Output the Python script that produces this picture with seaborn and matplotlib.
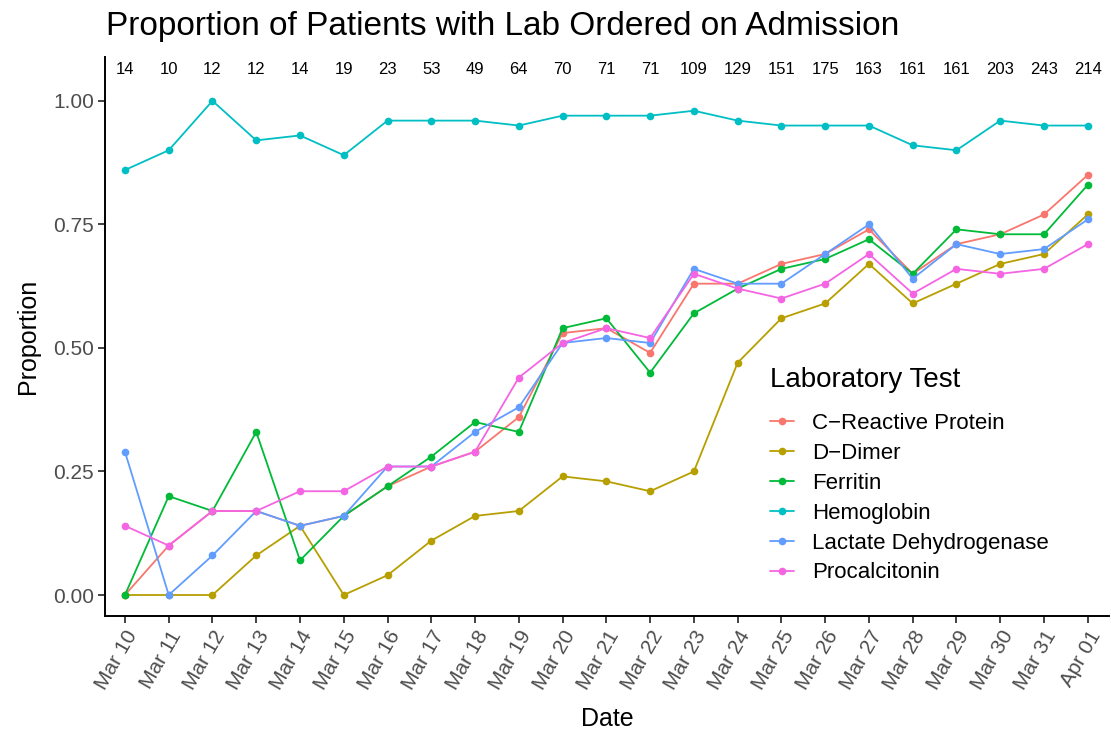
import pandas as pd
import seaborn as sns
import matplotlib.pyplot as plt
import matplotlib.dates as mdates

dates = pd.date_range("2020-03-10", "2020-04-01", freq="D")

counts = [14, 10, 12, 12, 14, 19, 23, 53, 49, 64, 70, 71, 71, 109,
          129, 151, 175, 163, 161, 161, 203, 243, 214]

crp = [0.00, 0.10, 0.17, 0.17, 0.14, 0.16, 0.22, 0.26, 0.29, 0.36, 0.53, 0.54,
       0.49, 0.63, 0.63, 0.67, 0.69, 0.74, 0.65, 0.71, 0.73, 0.77, 0.85]
ddimer = [0.00, 0.00, 0.00, 0.08, 0.14, 0.00, 0.04, 0.11, 0.16, 0.17, 0.24, 0.23,
          0.21, 0.25, 0.47, 0.56, 0.59, 0.67, 0.59, 0.63, 0.67, 0.69, 0.77]
ferritin = [0.00, 0.20, 0.17, 0.33, 0.07, 0.16, 0.22, 0.28, 0.35, 0.33, 0.54, 0.56,
            0.45, 0.57, 0.62, 0.66, 0.68, 0.72, 0.65, 0.74, 0.73, 0.73, 0.83]
hemoglobin = [0.86, 0.90, 1.00, 0.92, 0.93, 0.89, 0.96, 0.96, 0.96, 0.95, 0.97, 0.97,
              0.97, 0.98, 0.96, 0.95, 0.95, 0.95, 0.91, 0.90, 0.96, 0.95, 0.95]
ldh = [0.29, 0.00, 0.08, 0.17, 0.14, 0.16, 0.26, 0.26, 0.33, 0.38, 0.51, 0.52,
       0.51, 0.66, 0.63, 0.63, 0.69, 0.75, 0.64, 0.71, 0.69, 0.70, 0.76]
procalcitonin = [0.14, 0.10, 0.17, 0.17, 0.21, 0.21, 0.26, 0.26, 0.29, 0.44, 0.51, 0.54,
                 0.52, 0.65, 0.62, 0.60, 0.63, 0.69, 0.61, 0.66, 0.65, 0.66, 0.71]

tests = ["C\u2212Reactive Protein", "D\u2212Dimer", "Ferritin", "Hemoglobin",
         "Lactate Dehydrogenase", "Procalcitonin"]
colors = ["#F8766D", "#B79F00", "#00BA38", "#00BFC4", "#619CFF", "#F564E3"]

series = [crp, ddimer, ferritin, hemoglobin, ldh, procalcitonin]
df = pd.concat([pd.DataFrame({"Date": dates, "Proportion": s, "Test": t})
                for s, t in zip(series, tests)])

sns.set_style("ticks")
plt.rcParams["font.family"] = ["Liberation Sans", "DejaVu Sans"]
plt.rcParams["text.color"] = "black"
plt.rcParams["axes.labelcolor"] = "black"

fig = plt.figure(figsize=(11.11, 7.29), dpi=100)
ax = fig.add_axes([0.0945, 0.155, 0.9035, 0.767])

sns.lineplot(data=df, x="Date", y="Proportion", hue="Test", hue_order=tests,
             palette=colors, marker="o", markersize=5.5, markeredgewidth=0,
             linewidth=1.3, ax=ax)

# n per day along the top
for d, c in zip(dates, counts):
    ax.text(d, 1.063, str(c), ha="center", va="center", fontsize=12, color="black")

ax.set_ylim(-0.0425, 1.089)
ax.set_xlim(dates[0] - pd.Timedelta(days=0.456), dates[0] + pd.Timedelta(days=22.48))
ax.set_yticks([0, 0.25, 0.5, 0.75, 1.0])
ax.set_yticklabels(["0.00", "0.25", "0.50", "0.75", "1.00"])
ax.set_xticks(dates)
ax.xaxis.set_major_formatter(mdates.DateFormatter("%b %d"))
plt.setp(ax.get_xticklabels(), rotation=60, ha="right", va="top",
         rotation_mode="anchor")

ax.tick_params(axis="both", labelsize=15, labelcolor="#4D4D4D", color="#333333",
               length=5, width=1.3, pad=3)
for s in ["top", "right"]:
    ax.spines[s].set_visible(False)
for s in ["left", "bottom"]:
    ax.spines[s].set_linewidth(1.4)
    ax.spines[s].set_color("black")

ax.set_xlabel("Date", fontsize=18)
ax.set_ylabel("Proportion", fontsize=18)
ax.xaxis.labelpad = 10
ax.yaxis.labelpad = 9

fig.text(106 / 1111, 1 - 35 / 729, "Proportion of Patients with Lab Ordered on Admission",
         fontsize=24, ha="left", va="baseline")

# legend title drawn separately so the gap to the entries matches
fig.text(770 / 1111, 1 - 380 / 729, "Laboratory Test", fontsize=20,
         ha="left", va="center")
leg = ax.legend(loc="upper left",
                bbox_to_anchor=(770 / 1111, 1 - 413 / 729), bbox_transform=fig.transFigure,
                frameon=False, fontsize=16, handlelength=1.1,
                labelspacing=0.4, handletextpad=0.8, borderpad=0, borderaxespad=0)

fig.savefig("out.png", dpi=100)
